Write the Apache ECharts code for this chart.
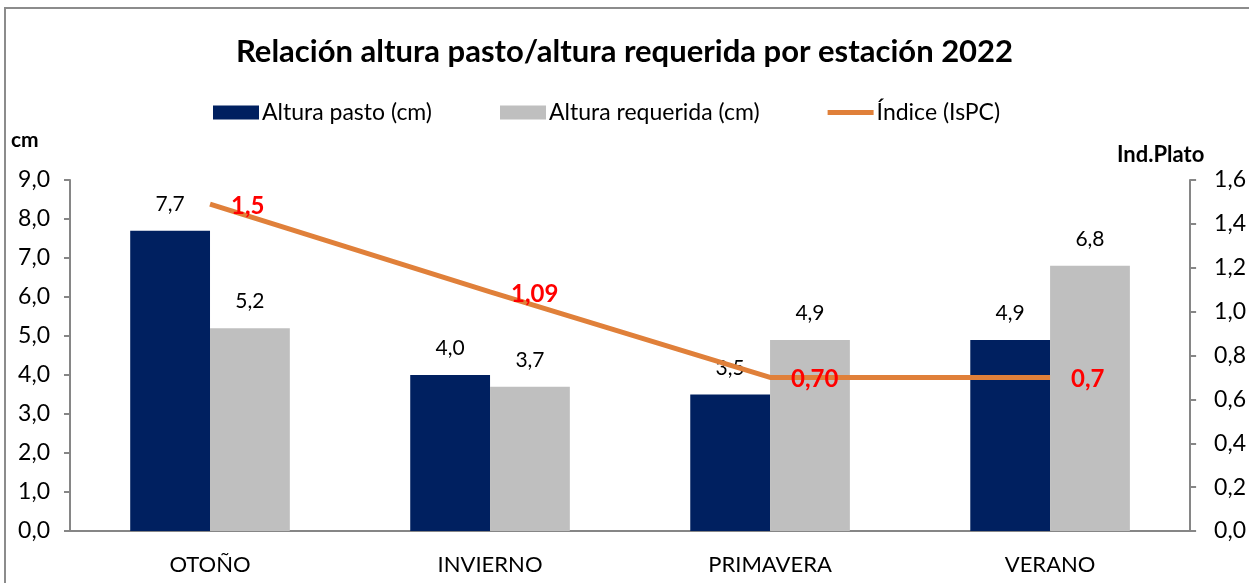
<!DOCTYPE html>
<html><head><meta charset="utf-8">
<script src="https://cdn.jsdelivr.net/npm/echarts@6/dist/echarts.min.js"></script>
<style>html,body{margin:0;padding:0;background:#fff}#c{width:1249px;height:583px}</style>
</head><body><div id="c"></div>
<script>
const categories = ['OTOÑO', 'INVIERNO', 'PRIMAVERA', 'VERANO'];
const alturaPasto = [7.7, 4.0, 3.5, 4.9];
const alturaRequerida = [5.2, 3.7, 4.9, 6.8];
const indice = [1.49, 1.09, 0.70, 0.70];
const indiceLabels = ['1,5', '1,09', '0,70', '0,7'];
const seriesNames = ['Altura pasto (cm)', 'Altura requerida (cm)', 'Índice (IsPC)'];

const FONT = 'Lato, "Liberation Sans Narrow", sans-serif';
const fmt1 = v => v.toFixed(1).replace('.', ',');
const chart = echarts.init(document.getElementById('c'), null, {renderer: 'canvas'});
chart.setOption({
  animation: false,
  textStyle: {fontFamily: FONT},
  title: {text: 'Relación altura pasto/altura requerida por estación 2022', left: 'center', top: 31,
    textStyle: {fontFamily: FONT, fontSize: 31, fontWeight: 'bold', color: '#000'}},
  legend: {top: 96, left: 208, itemGap: 68, itemWidth: 46, itemHeight: 14,
    textStyle: {fontFamily: FONT, fontSize: 23, color: '#000', padding: [0,0,0,-2]},
    data: [
      {name: seriesNames[0], icon: 'rect'},
      {name: seriesNames[1], icon: 'rect'},
      {name: seriesNames[2], icon: 'path://M0,0 L46,0 L46,5 L0,5 Z', itemStyle: {color: '#E0803A'}}
    ]},
  graphic: [
    {type: 'rect', shape: {x: 5, y: 8, width: 1300, height: 700}, style: {fill: 'none', stroke: '#8c8c8c', lineWidth: 2}, silent: true},
    {type: 'text', left: 11, top: 130, style: {text: 'cm', font: 'bold 21px ' + FONT, fill: '#000'}},
    {type: 'text', left: 1117, top: 144, style: {text: 'Ind.Plato', font: 'bold 22px ' + FONT, fill: '#000'}}
  ],
  grid: {left: 70, right: 57, top: 180, bottom: 52},
  xAxis: {type: 'category', data: categories,
    axisLine: {lineStyle: {color: '#868686', width: 2}},
    axisTick: {show: false},
    axisLabel: {color: '#000', fontSize: 22, margin: 23, fontFamily: FONT}},
  yAxis: [
    {type: 'value', min: 0, max: 9, interval: 1,
      axisLine: {show: true, lineStyle: {color: '#868686', width: 2}},
      axisTick: {show: true, length: 6, lineStyle: {color: '#868686', width: 2}},
      splitLine: {show: false},
      axisLabel: {formatter: v => fmt1(v), color: '#000', fontSize: 23, margin: 20, fontFamily: FONT}},
    {type: 'value', min: 0, max: 1.6, interval: 0.2, position: 'right',
      axisLine: {show: true, lineStyle: {color: '#868686', width: 2}},
      axisTick: {show: true, length: 6, lineStyle: {color: '#868686', width: 2}},
      splitLine: {show: false},
      axisLabel: {formatter: v => fmt1(v), color: '#000', fontSize: 23, margin: 24, fontFamily: FONT}}
  ],
  series: [
    {name: seriesNames[0], type: 'bar', data: alturaPasto, barGap: '0%', barCategoryGap: '43%',
      itemStyle: {color: '#002060'},
      label: {show: true, position: 'top', distance: 16, formatter: p => fmt1(p.value), color: '#000', fontSize: 21, fontFamily: FONT}},
    {name: seriesNames[1], type: 'bar', data: alturaRequerida,
      itemStyle: {color: '#bfbfbf'},
      label: {show: true, position: 'top', distance: 16, formatter: p => fmt1(p.value), color: '#000', fontSize: 21, fontFamily: FONT}},
    {name: seriesNames[2], type: 'line', yAxisIndex: 1, data: indice, symbol: 'circle', symbolSize: 0, showSymbol: true,
      lineStyle: {color: '#E0803A', width: 5}, itemStyle: {color: '#E0803A'},
      label: {show: true, position: 'right', distance: 21, offset: [0, 2], formatter: p => indiceLabels[p.dataIndex],
        color: '#ff0000', fontSize: 24, fontWeight: 'bold', fontFamily: FONT}}
  ]
});
</script></body></html>
